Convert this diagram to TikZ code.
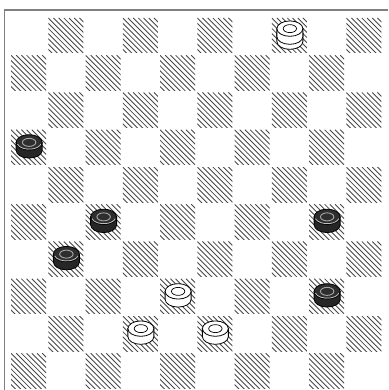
\documentclass[tikz,border=0pt]{standalone}
\begin{document}
\begin{tikzpicture}[x=1pt,y=-1pt,
  frame/.style={draw=black!50,line width=1.6pt},
  hatchline/.style={draw=black!72,line width=0.85pt},
  pcline/.style={draw=black,line width=0.8pt},
  blackpc/.pic={
    \filldraw[pcline,fill=black!85] (-13,-5) -- (-13,3) arc[start angle=180,end angle=0,x radius=13,y radius=7.7] -- (13,-5) -- cycle;
    \filldraw[pcline,fill=black!82] (0,-5) ellipse[x radius=13,y radius=7.7];
    \draw[black!25,line width=0.8pt] ([shift={(0,-5)}]165:12.1 and 6.8) arc[start angle=165,end angle=15,x radius=12.1,y radius=6.8];
    \draw[black!35,line width=0.9pt] (0,-5) ellipse[x radius=6.7,y radius=4];
  },
  whitepc/.pic={
    \filldraw[pcline,fill=white] (-13,-5) -- (-13,3) arc[start angle=180,end angle=0,x radius=13,y radius=7.7] -- (13,-5) -- cycle;
    \filldraw[pcline,fill=white] (0,-5) ellipse[x radius=13,y radius=7.7];
    \draw[black,line width=0.7pt] (0,-5) ellipse[x radius=6.7,y radius=4];
  },
  whiteking/.pic={
    \pic at (0,3) {whitepc};
    \pic at (0,-2) {whitepc};
  }]
\useasboundingbox (0,0) rectangle (388,390);
\fill[white] (0,0) rectangle (388,390);
\draw[frame] (4.5,390) -- (4.5,10) -- (388,10);
\foreach \r in {0,...,9} {
  \foreach \c in {0,...,9} {
    \pgfmathtruncatemacro\pty{mod(\r+\c,2)}
    \ifnum\pty=1
      \begin{scope}
        \clip ({10.5+\c*37.25+0.5},{17+\r*37.25+1}) rectangle ++(35,35);
        \foreach \k in {-8,...,8} {
          \draw[hatchline] ({10.5+\c*37.25+0.5+\k*5.2},{17+\r*37.25+1}) -- ++(40,40);
        }
      \end{scope}
    \fi
  }
}
\foreach \r/\c in {4/1,6/3,6/9,7/2,8/9} {
  \pic at ({10.5+(\c-0.5)*37.25},{17+(\r-0.5)*37.25}) {blackpc};
}
\foreach \r/\c in {8/5,9/4,9/6} {
  \pic at ({10.5+(\c-0.5)*37.25},{17+(\r-0.5)*37.25}) {whitepc};
}
\pic at ({10.5+7.5*37.25},{17+0.5*37.25}) {whiteking};
\end{tikzpicture}
\end{document}
